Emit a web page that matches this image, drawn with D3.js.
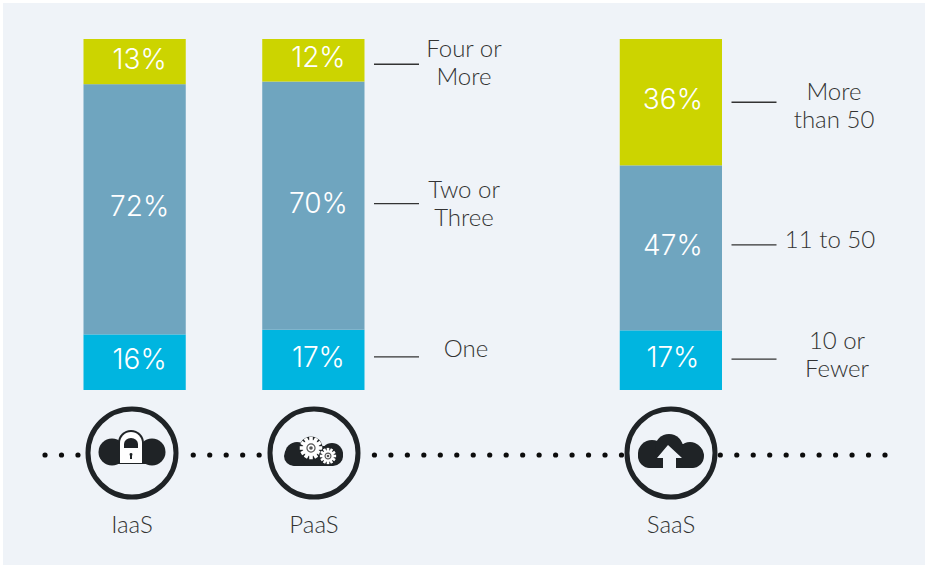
<!DOCTYPE html>
<html>
<head>
<meta charset="utf-8">
<script src="https://cdn.jsdelivr.net/npm/d3@7"></script>
<style>
  html, body { margin: 0; background: #fff; }
  .pct { font-family: Inter, sans-serif; font-weight: 300; font-size: 28px; fill: #fff; text-anchor: middle; }
  .lab { font-family: Lato, sans-serif; font-weight: 300; font-size: 24px; fill: #333; text-anchor: middle; }
</style>
</head>
<body>
<svg class="chart" width="925" height="565" style="display:block"></svg>
<script>
// an empty slot keeps the gap between PaaS and SaaS
const slots = ['IaaS', 'PaaS', '', 'SaaS'];
const models = ['IaaS', 'PaaS', 'SaaS'];
const levels = ['low', 'mid', 'high'];
const lowValues = [16, 17, 17];
const midValues = [72, 70, 47];
const highValues = [13, 12, 36];
const levelColors = ['#00b5e0', '#6fa5bf', '#ccd400'];

// only PaaS and SaaS carry callouts
const paasLabels = [['One'], ['Two or', 'Three'], ['Four or', 'More']];
const saasLabels = [['10 or', 'Fewer'], ['11 to 50'], ['More', 'than 50']];

const dark = '#1f2326';
const panel = '#eff3f8';

const rows = models.map((m, i) => ({
  model: m, low: lowValues[i], mid: midValues[i], high: highValues[i]
}));

const svg = d3.select('.chart');

svg.append('rect')
  .attr('x', 3).attr('y', 3)
  .attr('width', 922).attr('height', 562)
  .attr('fill', panel);

const x = d3.scaleBand().domain(slots).range([83.5, 722]).paddingInner(0.428).paddingOuter(0);
const y = d3.scaleLinear().domain([0, 1]).range([390, 39]);
const color = d3.scaleOrdinal().domain(levels).range(levelColors);

// the printed percents do not all add to 100, so each bar is normalised
const series = d3.stack().keys(levels).offset(d3.stackOffsetExpand)(rows);

const layers = svg.selectAll('.layer').data(series)
  .enter().append('g')
  .attr('class', 'layer')
  .attr('fill', d => color(d.key));

layers.selectAll('rect').data(d => d)
  .enter().append('rect')
  .attr('x', d => x(d.data.model))
  .attr('y', d => y(d[1]))
  .attr('width', x.bandwidth())
  .attr('height', d => y(d[0]) - y(d[1]));

const pctNudge = { IaaS: 5, PaaS: 5, SaaS: 2 };

layers.selectAll('text').data(d => d.map(p => ({ p, key: d.key })))
  .enter().append('text')
  .attr('class', 'pct')
  .attr('x', d => x(d.p.data.model) + x.bandwidth() / 2 + pctNudge[d.p.data.model])
  .attr('y', d => (y(d.p[0]) + y(d.p[1])) / 2 - 3)
  .attr('dy', '0.36em')
  .text(d => d.p.data[d.key] + '%');

// callouts; the nudges follow the hand placement of the original
function callouts(model, labels, labelX, lineNudge, textNudge, xNudge) {
  const s = series.map(layer => layer.find(p => p.data.model === model));
  const right = x(model) + x.bandwidth();
  labels.forEach((lines, i) => {
    const mid = (y(s[i][0]) + y(s[i][1])) / 2;
    const ly = mid + lineNudge[i];
    const ty = mid + textNudge[i];
    svg.append('line')
      .attr('x1', right + 9.5).attr('x2', right + 54.5)
      .attr('y1', ly).attr('y2', ly)
      .attr('stroke', '#333').attr('stroke-width', 1.4);
    const t = svg.append('text').attr('class', 'lab');
    lines.forEach((line, j) => {
      t.append('tspan')
        .attr('x', labelX + xNudge[i])
        .attr('y', ty + 8 + (j - (lines.length - 1) / 2) * 28)
        .text(line);
    });
  });
}
callouts('PaaS', paasLabels, 464, [-3, -2, 4], [-11, -2, 3], [2, 0, 0]);
callouts('SaaS', saasLabels, 832, [-1, -3, 0], [-5, -8, 4], [5, -2, 2]);

// dotted line behind the icons
const dotY = 455;
const iconR = 44;
const centers = [132, 314, 671];
const dots = d3.range(52).map(k => 885 - k * 16.47)
  .filter(cx => centers.every(c => Math.abs(cx - c) > iconR + 3));

svg.append('g').selectAll('circle').data(dots)
  .enter().append('circle')
  .attr('cx', d => d).attr('cy', dotY).attr('r', 2.6)
  .attr('fill', '#0c0c0c');

// icons
function cloud(g, lobes, left, right, bottom, h) {
  g.append('rect')
    .attr('x', left).attr('y', bottom - h)
    .attr('width', right - left).attr('height', h)
    .attr('rx', h / 2).attr('fill', dark);
  g.selectAll('.lobe').data(lobes)
    .enter().append('circle')
    .attr('class', 'lobe')
    .attr('cx', d => d[0]).attr('cy', d => d[1]).attr('r', d => d[2])
    .attr('fill', dark);
}

function gear(g, cx, cy, r, teeth) {
  const gr = g.append('g').attr('transform', `translate(${cx},${cy})`);
  gr.append('circle').attr('r', r + 2.5).attr('fill', dark);
  d3.range(teeth).forEach(i => {
    gr.append('rect')
      .attr('x', -r * 0.2).attr('y', -r * 1.25)
      .attr('width', r * 0.4).attr('height', r * 2.5)
      .attr('fill', '#fff')
      .attr('transform', `rotate(${i * 180 / teeth})`);
  });
  gr.append('circle').attr('r', r * 0.9).attr('fill', '#fff');
  gr.append('circle').attr('r', r * 0.45).attr('fill', 'none').attr('stroke', '#555').attr('stroke-width', 1.2);
  gr.append('circle').attr('r', r * 0.2).attr('fill', '#555');
}

const iconG = svg.selectAll('.icon').data(models)
  .enter().append('g')
  .attr('class', 'icon')
  .attr('transform', (d, i) => `translate(${centers[i]},453)`);

iconG.append('circle')
  .attr('r', iconR)
  .attr('fill', panel)
  .attr('stroke', dark)
  .attr('stroke-width', 5);

iconG.filter(d => d === 'IaaS').each(function () {
  const g = d3.select(this);
  cloud(g, [[-20, -1, 13.5], [20, -1, 13.5]], -33, 32, 11, 22);
  g.append('path')
    .attr('d', 'M-14,11 V-10 A13,13 0 0 1 12,-10 V11 Z')
    .attr('fill', dark);
  g.append('path')
    .attr('d', 'M-12,10 V-10 A11,11 0 0 1 10,-10 V10 Z')
    .attr('fill', '#fff');
  g.append('path')
    .attr('d', 'M-8,-5 V-9 A7,6 0 0 1 6,-9 V-5 Z')
    .attr('fill', dark);
  g.append('path')
    .attr('d', 'M-2.5,1 A1.6,1.6 0 0 1 0.5,1 L0,3 V6 H-2 V3 Z')
    .attr('fill', dark);
});

iconG.filter(d => d === 'PaaS').each(function () {
  const g = d3.select(this);
  cloud(g, [[-17, 1, 12], [18, 1, 11], [-2, 2, 11]], -30, 29, 13, 20);
  gear(g, -3, -5, 9, 6);
  gear(g, 14, 3, 6.5, 6);
});

iconG.filter(d => d === 'SaaS').each(function () {
  const g = d3.select(this);
  cloud(g, [[-19, 1, 14], [19, 2, 13], [-2, -5, 14]], -33, 33, 15, 24);
  g.append('path')
    .attr('d', 'M-3,-8 L11,5 H5 V16 H-8 V5 H-14 Z')
    .attr('fill', panel);
});

// category names under the icons
svg.selectAll('.name').data(models)
  .enter().append('text')
  .attr('class', 'lab')
  .attr('x', (d, i) => centers[i])
  .attr('y', 533)
  .text(d => d);
</script>
</body>
</html>
